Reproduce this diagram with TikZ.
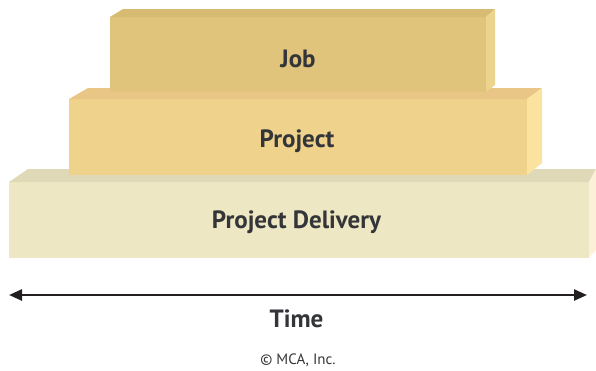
\documentclass[tikz,border=0pt]{standalone}
\usepackage{fontspec}
\setmainfont{PT Sans}
\usetikzlibrary{arrows.meta}

% Face colours of the three stacked blocks
\definecolor{jobfront}{HTML}{E0C47C}
\definecolor{jobtop}{HTML}{D8BB72}
\definecolor{jobside}{HTML}{EDD48E}
\definecolor{projfront}{HTML}{EFD28C}
\definecolor{projtop}{HTML}{E9C685}
\definecolor{projside}{HTML}{FBE39F}
\definecolor{delfront}{HTML}{EEE7C4}
\definecolor{deltop}{HTML}{DFD9B8}
\definecolor{delside}{HTML}{FDF0D8}
\definecolor{labelgray}{HTML}{333538}
\definecolor{arrowblack}{HTML}{231F20}

\tikzset{
  front/.style={inner sep=0pt, outer sep=0pt, anchor=north west},
  caption/.style={inner sep=0pt, text=labelgray, anchor=base},
  bigbold/.style={font=\fontsize{25}{25}\selectfont\bfseries},
  timeline/.style={draw=arrowblack, line width=2.4pt,
    {Triangle[length=13pt,width=11pt]}-{Triangle[length=13pt,width=11pt]}},
}

\begin{document}
\begin{tikzpicture}[x=1pt,y=-1pt]
  \useasboundingbox (0,0) rectangle (596,370);

  % Bottom block: Project Delivery
  \node[front, fill=delfront, minimum width=580pt, minimum height=75.5pt]
    (del) at (9,182) {};
  \fill[deltop] (del.north west) -- (28,169) -- (596,169) -- (del.north east) -- cycle;
  \fill[delside] (del.north east) -- (596,169) -- (596,250) -- (del.south east) -- cycle;
  \node[caption, bigbold] (deltext) at (296.5,228.5) {Project Delivery};

  % Middle block: Project
  \node[front, fill=projfront, minimum width=458pt, minimum height=76pt]
    (proj) at (69,99) {};
  \fill[projtop] (proj.north west) -- (88,88) -- (542,88) -- (proj.north east) -- cycle;
  \fill[projside] (proj.north east) -- (542,88) -- (542,163) -- (proj.south east) -- cycle;
  \node[caption, bigbold] (projtext) at (297,147) {Project};

  % Top block: Job
  \node[front, fill=jobfront, minimum width=376pt, minimum height=75pt]
    (job) at (110,17) {};
  \fill[jobtop] (job.north west) -- (123,9) -- (495,9) -- (job.north east) -- cycle;
  \fill[jobside] (job.north east) -- (495,9) -- (495,85) -- (job.south east) -- cycle;
  \node[caption, bigbold] (jobtext) at (298,67) {Job};

  % Time axis
  \coordinate (tstart) at (9,295);
  \coordinate (tend) at (587,295);
  \draw[timeline] (tstart) -- (tend);
  \node[caption, bigbold] (time) at (296.5,327) {Time};
  \node[caption, font=\fontsize{15}{15}\selectfont] (copy) at (298,364) {© MCA, Inc.};
\end{tikzpicture}
\end{document}
